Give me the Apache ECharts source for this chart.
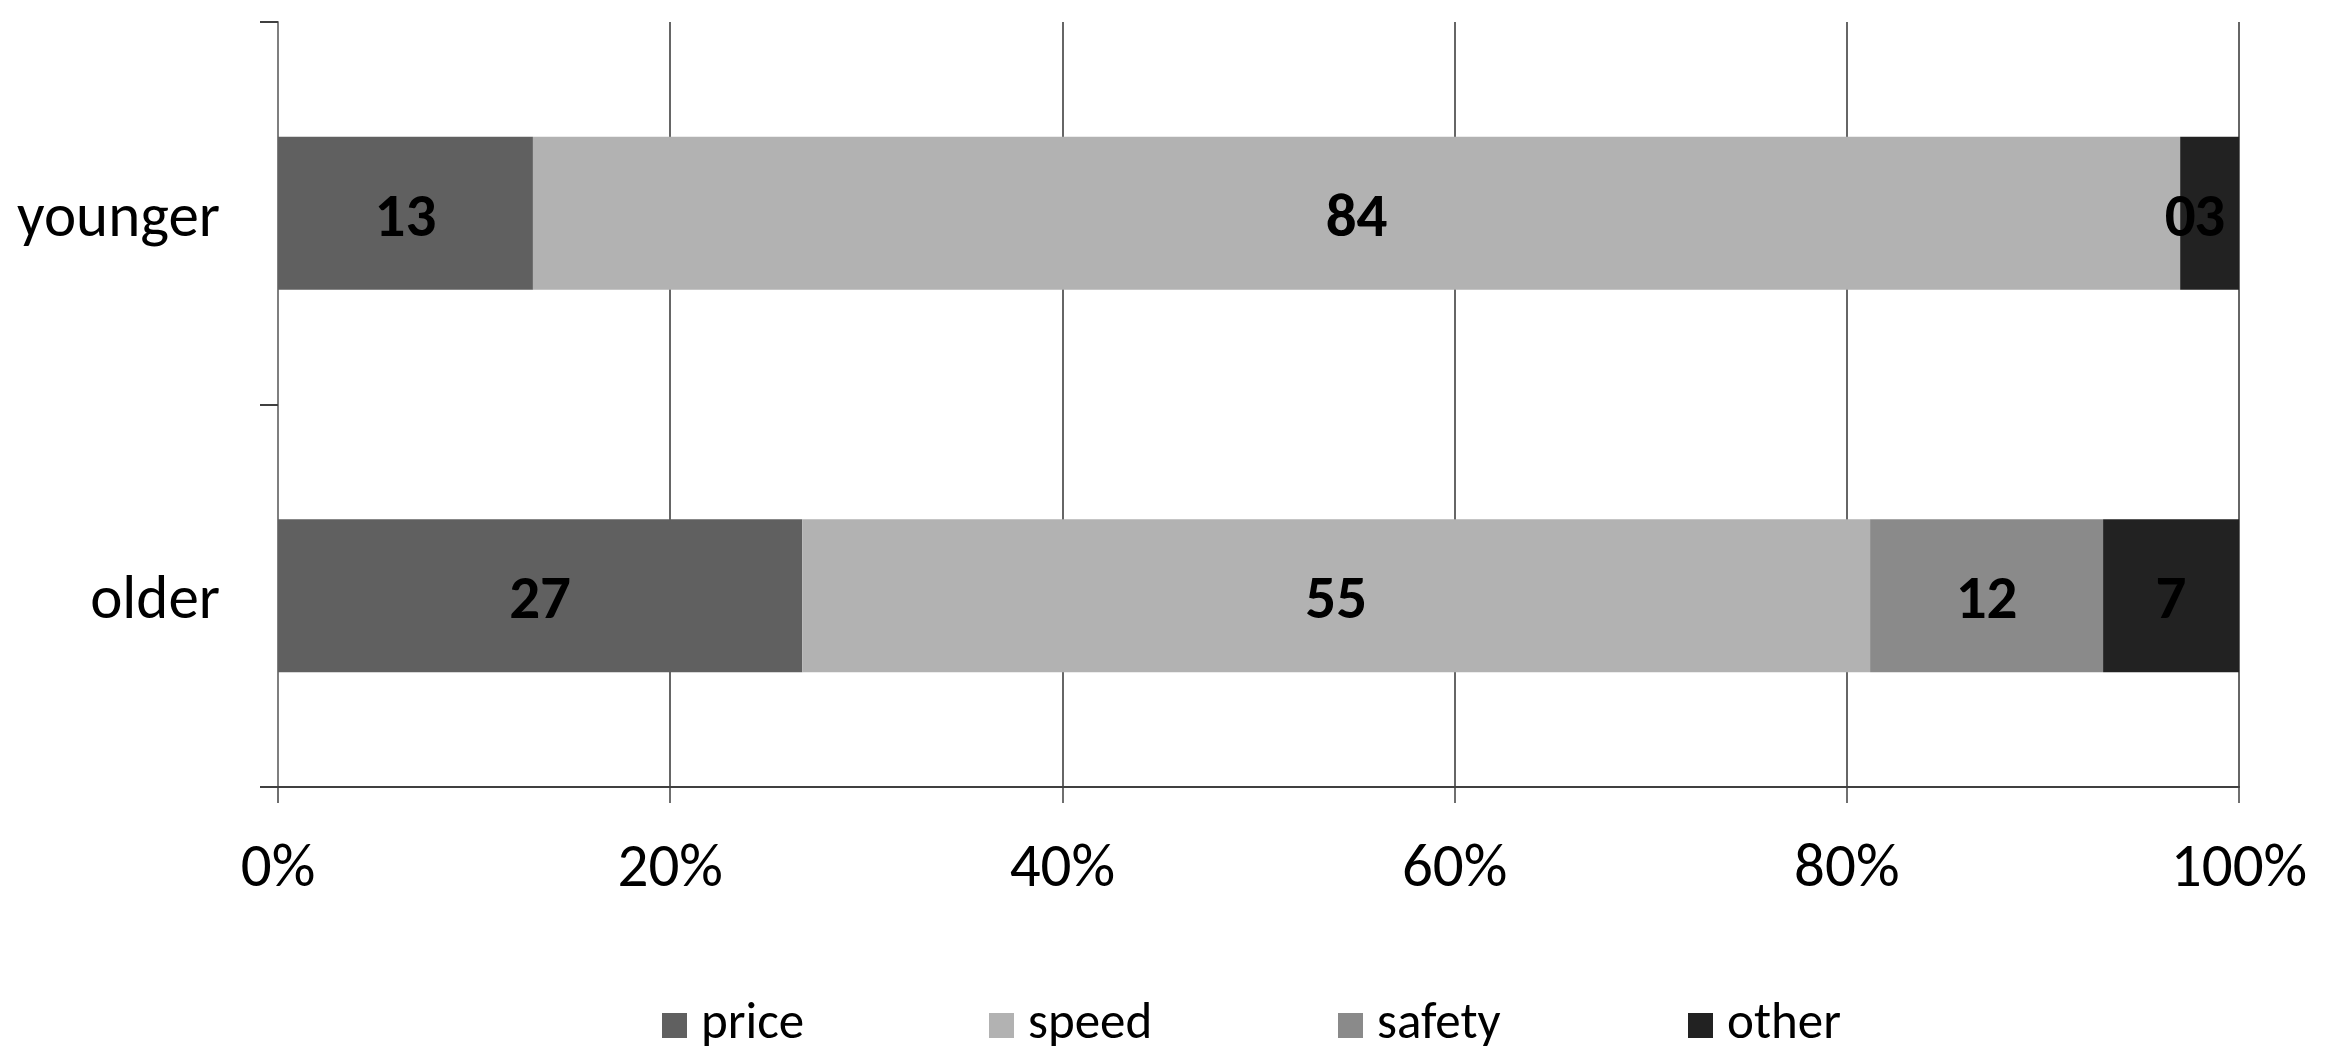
<!DOCTYPE html>
<html>
<head>
<meta charset="utf-8">
<script src="https://cdn.jsdelivr.net/npm/echarts@6/dist/echarts.min.js"></script>
<style>
html,body{margin:0;padding:0;background:#fff;}
#chart{width:2328px;height:1063px;}
</style>
</head>
<body>
<div id="chart"></div>
<script>
// Data
var categories = ['younger', 'older'];
var seriesNames = ['price', 'speed', 'safety', 'other'];
var price  = [13, 27];
var speed  = [84, 55];
var safety = [0, 12];
var other  = [3, 7];
var tickLabels = ['0%', '20%', '40%', '60%', '80%', '100%'];

var colors = ['#606060', '#b2b2b2', '#8a8a8a', '#222222'];
var rawSeries = [price, speed, safety, other];
var FONT = 'Carlito, Lato, sans-serif';

var totals = categories.map(function (c, i) {
  return rawSeries.reduce(function (s, arr) { return s + arr[i]; }, 0);
});

var series = rawSeries.map(function (arr, k) {
  return {
    name: seriesNames[k],
    type: 'bar',
    stack: 'total',
    barCategoryGap: '60%',
    itemStyle: { color: colors[k] },
    label: {
      show: true,
      position: 'inside',
      offset: [0, 7],
      color: '#000',
      fontFamily: FONT,
      fontWeight: 'bold',
      fontSize: 61,
      formatter: function (p) { return String(arr[p.dataIndex]); }
    },
    data: arr.map(function (v, i) { return v / totals[i] * 100; })
  };
});

var legendLefts = [662, 989, 1338, 1688];
var legends = seriesNames.map(function (n, k) {
  return {
    data: [n],
    left: legendLefts[k],
    top: 1000,
    padding: 0,
    itemWidth: 25,
    itemHeight: 25,
    icon: 'rect',
    selectedMode: false,
    textStyle: { fontFamily: FONT, fontSize: 51, color: '#000', padding: [0, 0, 0, 9] }
  };
});

var chart = echarts.init(document.getElementById('chart'));
chart.setOption({
  animation: false,
  backgroundColor: '#fff',
  legend: legends,
  grid: { left: 278, right: 89, top: 22, bottom: 276, containLabel: false },
  xAxis: {
    type: 'value',
    min: 0,
    max: 100,
    interval: 20,
    axisLine: { show: true, lineStyle: { color: '#404040', width: 2 } },
    axisTick: { show: true, length: 16, lineStyle: { color: '#404040', width: 1.5 } },
    splitLine: { show: true, lineStyle: { color: '#333', width: 1.5 } },
    axisLabel: {
      fontFamily: FONT, fontSize: 61, color: '#000', margin: 53,
      formatter: function (v) { return tickLabels[Math.round(v / 20)]; }
    }
  },
  yAxis: {
    type: 'category',
    inverse: true,
    data: categories,
    axisLine: { show: true, lineStyle: { color: '#7f7f7f', width: 2 } },
    axisTick: { show: true, length: 18, alignWithLabel: false, lineStyle: { color: '#404040', width: 2 } },
    axisLabel: {
      margin: 58,
      formatter: function (v) { return '{a|' + v + '}'; },
      rich: { a: { fontFamily: FONT, fontSize: 61, color: '#000', padding: [14, 0, 0, 0] } }
    }
  },
  series: series
});
</script>
</body>
</html>
